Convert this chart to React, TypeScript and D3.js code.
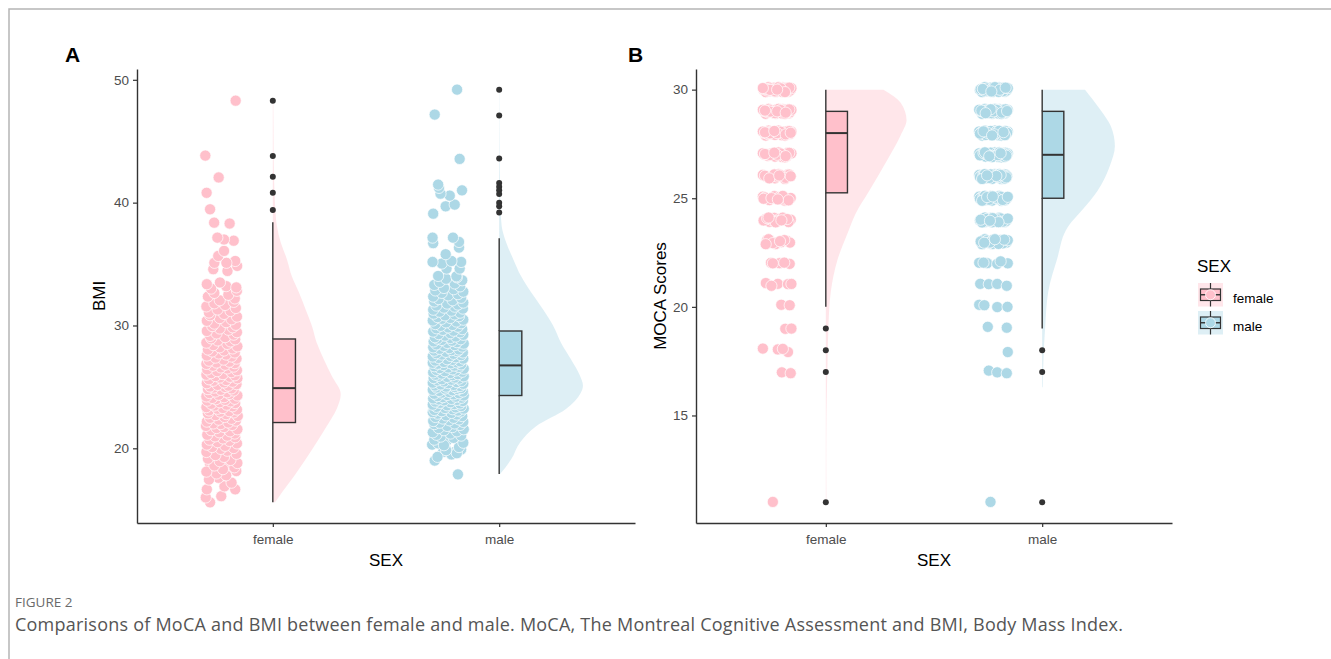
import { useEffect, useRef } from 'react'
import * as d3 from 'd3'

type Pt = [number, number]

const SEXES = ['female', 'male']
const FILL: Record<string, string> = { female: '#FFC0CB', male: '#ADD8E6' }

const bmiTicks = [20, 30, 40, 50]
const mocaTicks = [15, 20, 25, 30]

// BMI observations: [value, horizontal jitter]
const bmiFemale: Pt[] = [
  [15.6, -0.55], [16.0, -0.75], [16.1, -0.03], [16.66, -0.7], [16.9, 0.12], [16.66, 0.62], [17.6, -0.16], [18.15, 0.67], [18.7, -0.55], [18.56, 0.3],
  [17.2, 0.45], [17.45, -0.6], [17.8, 0.2], [17.95, -0.25],
  [18.1, -0.72], [18.3, 0.05], [18.45, 0.58], [18.6, -0.35], [18.8, 0.72], [18.95, -0.1],
  [19.05, 0.4], [19.15, -0.65], [19.3, 0.1], [19.45, -0.3], [19.55, 0.68], [19.7, -0.72], [19.8, 0.25], [19.95, -0.05],
  [20.02, 0.55], [20.1, -0.45], [20.2, 0.15], [20.3, -0.7], [20.4, 0.7], [20.5, -0.2], [20.6, 0.35], [20.7, -0.58], [20.8, 0.05], [20.9, 0.62], [20.97, -0.32],
  [21.03, 0.25], [21.1, -0.68], [21.2, 0.6], [21.3, -0.12], [21.38, 0.38], [21.47, -0.5], [21.55, 0.72], [21.65, -0.25], [21.73, 0.1], [21.82, -0.74], [21.9, 0.48], [21.97, -0.05],
  [22.02, -0.4], [22.1, 0.3], [22.17, -0.7], [22.25, 0.65], [22.33, -0.15], [22.4, 0.45], [22.48, -0.55], [22.55, 0.12], [22.63, 0.74], [22.7, -0.3], [22.78, 0.2], [22.85, -0.65], [22.92, 0.55], [22.98, -0.08],
  [23.02, 0.35], [23.08, -0.6], [23.15, 0.7], [23.22, -0.2], [23.28, 0.05], [23.35, -0.72], [23.42, 0.5], [23.48, -0.35], [23.55, 0.22], [23.62, -0.5], [23.68, 0.62], [23.75, -0.1], [23.82, 0.4], [23.88, -0.68], [23.94, 0.15], [23.99, -0.28],
  [24.03, 0.6], [24.1, -0.45], [24.16, 0.1], [24.22, -0.72], [24.3, 0.72], [24.36, -0.15], [24.42, 0.35], [24.5, -0.58], [24.56, 0.25], [24.62, -0.3], [24.7, 0.55], [24.76, -0.05], [24.82, -0.65], [24.88, 0.45], [24.94, -0.38], [24.99, 0.15],
  [25.03, -0.55], [25.1, 0.3], [25.16, -0.2], [25.22, 0.68], [25.3, -0.7], [25.36, 0.1], [25.42, 0.5], [25.5, -0.4], [25.56, 0.2], [25.62, -0.6], [25.7, 0.72], [25.76, -0.1], [25.82, 0.38], [25.88, -0.3], [25.94, 0.6], [25.99, -0.72],
  [26.04, 0.05], [26.12, -0.5], [26.2, 0.45], [26.28, -0.22], [26.35, 0.7], [26.42, -0.68], [26.5, 0.25], [26.58, -0.05], [26.65, 0.55], [26.72, -0.42], [26.8, 0.15], [26.87, -0.72], [26.93, 0.6], [26.98, -0.25],
  [27.05, 0.35], [27.13, -0.6], [27.22, 0.08], [27.3, 0.68], [27.38, -0.3], [27.47, 0.45], [27.55, -0.7], [27.63, 0.2], [27.72, -0.15], [27.8, 0.6], [27.88, -0.45], [27.96, 0.1],
  [28.04, -0.65], [28.13, 0.5], [28.22, -0.1], [28.3, 0.72], [28.4, -0.4], [28.5, 0.25], [28.6, -0.72], [28.7, 0.4], [28.78, -0.2], [28.87, 0.62], [28.95, -0.5],
  [29.05, 0.15], [29.15, -0.55], [29.25, 0.55], [29.35, -0.25], [29.45, 0.7], [29.55, -0.7], [29.65, 0.3], [29.75, -0.1], [29.85, 0.5], [29.95, -0.45],
  [30.05, 0.65], [30.15, -0.35], [30.27, 0.2], [30.38, -0.7], [30.5, 0.45], [30.6, -0.1], [30.72, 0.7], [30.83, -0.55], [30.94, 0.1],
  [31.05, -0.6], [31.18, 0.4], [31.3, -0.2], [31.42, 0.65], [31.55, -0.72], [31.67, 0.15], [31.8, -0.35], [31.92, 0.55],
  [32.05, -0.1], [32.2, 0.6], [32.35, -0.65], [32.5, 0.3], [32.65, -0.35], [32.82, 0.7],
  [33.0, -0.5], [33.2, 0.2], [33.36, -0.7], [33.5, -0.09], [33.1, 0.67],
  [34.58, -0.4], [34.44, 0.26], [34.85, 0.71], [35.1, -0.35], [35.25, 0.62], [35.1, 0.21], [35.66, -0.17], [36.07, 0.1], [36.9, 0.55], [37.0, 0.1],
  [37.15, -0.21], [38.3, 0.36], [38.37, -0.36], [39.46, -0.55], [40.8, -0.71], [42.05, -0.15], [43.83, -0.77], [48.3, 0.64],
]

const bmiMale: Pt[] = [
  [17.88, 0.45], [19.0, -0.63], [19.7, -0.24], [19.7, 0.3], [20.3, -0.75], [20.4, -0.47], [19.9, 0.6], [20.6, -0.08], [19.5, 0.15],
  [19.3, -0.5], [19.6, 0.4], [19.85, -0.1],
  [20.1, 0.5], [20.25, -0.2], [20.45, 0.7], [20.7, -0.65], [20.85, 0.25], [20.95, -0.35],
  [21.03, 0.6], [21.1, -0.55], [21.2, 0.1], [21.3, -0.72], [21.38, 0.4], [21.47, -0.2], [21.55, 0.72], [21.65, -0.45], [21.73, 0.2], [21.82, -0.05], [21.9, 0.55], [21.97, -0.65],
  [22.02, 0.3], [22.08, -0.4], [22.15, 0.7], [22.22, -0.7], [22.28, 0.05], [22.35, 0.5], [22.42, -0.25], [22.48, 0.25], [22.55, -0.6], [22.62, 0.65], [22.68, -0.1], [22.75, 0.4], [22.82, -0.5], [22.88, 0.15], [22.94, -0.72], [22.99, 0.58],
  [23.02, -0.3], [23.07, 0.45], [23.12, -0.65], [23.18, 0.2], [23.23, 0.72], [23.28, -0.15], [23.33, 0.35], [23.38, -0.55], [23.44, 0.6], [23.5, -0.05], [23.55, -0.72], [23.6, 0.28], [23.65, 0.55], [23.7, -0.38], [23.75, 0.1], [23.8, -0.6], [23.85, 0.68], [23.9, -0.2], [23.94, 0.4], [23.98, -0.45],
  [24.02, 0.15], [24.06, -0.7], [24.11, 0.62], [24.16, -0.25], [24.2, 0.35], [24.25, -0.5], [24.3, 0.72], [24.34, -0.05], [24.39, 0.25], [24.44, -0.65], [24.48, 0.5], [24.53, -0.3], [24.58, 0.05], [24.62, 0.68], [24.67, -0.42], [24.72, 0.2], [24.76, -0.72], [24.81, 0.45], [24.86, -0.15], [24.9, 0.6], [24.95, -0.55], [24.99, 0.3],
  [25.02, -0.1], [25.07, 0.55], [25.11, -0.62], [25.16, 0.25], [25.2, -0.35], [25.25, 0.7], [25.3, 0.0], [25.34, -0.72], [25.39, 0.4], [25.44, -0.2], [25.48, 0.62], [25.53, -0.5], [25.58, 0.15], [25.62, -0.3], [25.67, 0.5], [25.72, -0.68], [25.76, 0.3], [25.81, -0.05], [25.86, 0.72], [25.9, -0.45], [25.95, 0.2], [25.99, -0.6],
  [26.03, 0.45], [26.08, -0.3], [26.13, 0.1], [26.18, -0.7], [26.23, 0.65], [26.28, -0.15], [26.33, 0.35], [26.38, -0.55], [26.43, 0.2], [26.48, 0.72], [26.53, -0.4], [26.58, 0.0], [26.63, 0.5], [26.68, -0.65], [26.73, 0.28], [26.78, -0.22], [26.83, 0.6], [26.88, -0.5], [26.92, 0.12], [26.96, -0.72], [26.99, 0.4],
  [27.03, -0.2], [27.08, 0.55], [27.14, -0.6], [27.2, 0.2], [27.25, -0.05], [27.3, 0.7], [27.36, -0.45], [27.41, 0.35], [27.47, -0.72], [27.52, 0.1], [27.58, 0.6], [27.63, -0.3], [27.69, 0.25], [27.74, -0.55], [27.8, 0.68], [27.85, -0.1], [27.9, 0.42], [27.95, -0.65], [27.99, 0.15],
  [28.04, 0.5], [28.1, -0.4], [28.16, 0.05], [28.22, -0.7], [28.28, 0.65], [28.34, -0.2], [28.4, 0.3], [28.46, -0.55], [28.52, 0.72], [28.58, -0.05], [28.64, 0.4], [28.7, -0.68], [28.76, 0.18], [28.82, -0.3], [28.88, 0.58], [28.93, -0.5], [28.98, 0.1],
  [29.04, -0.62], [29.1, 0.35], [29.17, -0.15], [29.24, 0.7], [29.3, -0.45], [29.37, 0.1], [29.44, 0.55], [29.5, -0.7], [29.57, 0.25], [29.64, -0.25], [29.7, 0.65], [29.77, -0.55], [29.84, 0.0], [29.9, 0.45], [29.97, -0.35],
  [30.04, 0.2], [30.11, -0.6], [30.18, 0.6], [30.25, -0.1], [30.32, 0.38], [30.4, -0.72], [30.47, 0.7], [30.54, -0.3], [30.61, 0.1], [30.68, -0.5], [30.75, 0.5], [30.82, -0.15], [30.9, 0.3], [30.96, -0.68],
  [31.04, 0.55], [31.12, -0.4], [31.2, 0.15], [31.28, -0.7], [31.37, 0.68], [31.45, -0.2], [31.53, 0.3], [31.62, -0.55], [31.7, 0.45], [31.78, -0.05], [31.86, 0.7], [31.95, -0.65],
  [32.05, 0.2], [32.15, -0.45], [32.25, 0.6], [32.35, -0.7], [32.45, 0.0], [32.55, 0.45], [32.65, -0.3], [32.75, 0.7], [32.85, -0.6], [32.95, 0.25],
  [33.05, -0.2], [33.18, 0.55], [33.3, -0.65], [33.42, 0.3], [33.55, -0.4], [33.68, 0.65], [33.8, -0.1], [33.92, 0.4],
  [34.0, 0.38], [34.03, -0.47], [34.63, -0.08], [34.63, 0.53], [35.04, -0.3], [35.17, -0.73], [35.17, 0.6], [35.25, 0.15], [35.8, -0.12], [36.34, 0.5],
  [36.7, -0.7], [36.8, 0.5], [37.15, -0.73], [37.15, 0.22], [39.1, -0.7], [39.7, -0.12], [39.84, 0.3], [40.57, 0.07], [40.73, -0.36], [41.0, 0.64],
  [41.2, -0.43], [41.47, -0.47], [43.56, 0.53], [47.17, -0.63], [49.2, 0.41],
]

// half-violin outlines: [value, width in category steps]
const bmiFemaleDensity: Pt[] = [
  [15.6, 0.01], [16.4, 0.04], [17.7, 0.093], [19.1, 0.145], [20.5, 0.194], [21.8, 0.238], [23.2, 0.282], [24.4, 0.3],
  [25.9, 0.26], [27.25, 0.225], [28.6, 0.194], [30.0, 0.172], [31.3, 0.145], [32.7, 0.115], [34.0, 0.084], [35.4, 0.062],
  [36.75, 0.035], [38.1, 0.018], [39.5, 0.011], [41.0, 0.007], [43.5, 0.004], [46.0, 0.003], [48.3, 0.002],
]
const bmiMaleDensity: Pt[] = [
  [17.9, 0.004], [19.1, 0.053], [20.5, 0.093], [21.8, 0.163], [23.2, 0.295], [24.5, 0.36], [25.1, 0.37], [25.9, 0.357],
  [27.25, 0.317], [28.6, 0.273], [30.0, 0.238], [31.3, 0.194], [32.7, 0.141], [34.0, 0.097], [35.4, 0.062], [36.75, 0.031],
  [38.1, 0.011], [39.5, 0.006], [41.5, 0.004], [44.0, 0.002], [49.2, 0.001],
]
const mocaFemaleDensity: Pt[] = [
  [11, 0.003], [13, 0.002], [15, 0.003], [16.1, 0.005], [17.5, 0.008], [19.1, 0.012], [20.7, 0.023], [22.2, 0.055],
  [23.4, 0.101], [24.3, 0.138], [25.3, 0.198], [26.8, 0.286], [27.9, 0.346], [28.6, 0.373], [29.4, 0.346], [30, 0.267],
]
const mocaMaleDensity: Pt[] = [
  [16.3, 0.003], [17.6, 0.006], [19.1, 0.014], [20.7, 0.028], [22.2, 0.069], [23.7, 0.12], [24.5, 0.189], [25.3, 0.253],
  [26.5, 0.313], [27.4, 0.336], [28.3, 0.318], [29.1, 0.267], [30, 0.198],
]

// box stats: [lower whisker, Q1, median, Q3, upper whisker]
const bmiFemaleBox = [15.6, 22.1, 24.9, 28.9, 38.4]
const bmiMaleBox = [17.9, 24.3, 26.75, 29.55, 37.1]
const mocaFemaleBox = [20, 25.25, 28, 29, 30]
const mocaMaleBox = [19, 25, 27, 29, 30]

const bmiFemaleOutliers = [48.3, 43.8, 42.1, 40.8, 39.4]
const bmiMaleOutliers = [49.2, 47.1, 43.6, 41.6, 41.3, 41.0, 40.7, 40.0, 39.7, 39.2]
const mocaFemaleOutliers = [19, 18, 17, 11]
const mocaMaleOutliers = [18, 17, 11]

// MoCA: counts on the crowded scores, single points on the rest
const MOCA_LEVELS = [30, 29, 28, 27, 26, 25, 24, 23]
const mocaFemaleCounts = [40, 35, 30, 22, 18, 16, 14, 12]
const mocaMaleCounts = [35, 38, 40, 38, 34, 30, 26, 22]
const mocaFemaleSparse: Pt[] = [
  [22, -0.43], [22, 0.17], [22, 0.88], [22, -0.3], [22, 0.5],
  [21, -0.79], [21, 0.05], [21, 0.76], [21, 1.0], [21, -0.4],
  [20, 0.29], [20, 0.88], [19, 0.57], [19, 1.0],
  [18, -1.0], [18, 0.05], [18, 0.76], [18, 0.4], [17, 0.33], [17, 0.95], [11, -0.3],
]
const mocaMaleSparse: Pt[] = [
  [22, -1.0], [22, -0.45], [22, 0.26], [22, 1.0], [22, -0.7], [22, 0.5],
  [21, -0.93], [21, -0.33], [21, 0.26], [21, 0.93],
  [20, -1.0], [20, -0.64], [20, 0.26], [20, 0.98],
  [19, -0.4], [19, 0.93], [18, 1.0], [17, -0.33], [17, 0.26], [17, 0.93], [11, -0.21],
]

// hand-picked jitter offsets [dx, dy] for the crowded score rows
const JITTER: Pt[] = [
  [-0.85, 0.3], [0.6, -0.5], [-0.2, 0.8], [0.95, 0.1], [-0.55, -0.7], [0.15, 0.4], [-0.95, -0.2], [0.4, 0.9],
  [0.8, -0.8], [-0.4, 0.05], [0.05, -0.45], [-0.7, 0.65], [0.7, 0.35], [-0.1, -0.9], [0.3, -0.15], [-0.6, 0.95],
  [0.9, -0.35], [-0.3, -0.55], [0.5, 0.6], [-0.8, -0.95], [0.2, 0.2], [-0.45, 0.45], [0.65, -0.65], [-0.05, 0.7],
  [1.0, 0.55], [-0.9, 0.1], [0.35, -0.85], [-0.25, -0.3], [0.75, 0.8], [-0.65, -0.4], [0.1, 0.95], [0.45, -0.05],
  [-0.75, 0.25], [0.85, 0.75], [-0.15, -0.7], [0.25, 0.5], [-0.5, -0.1], [0.55, -0.95], [-1.0, 0.6], [0.0, 0.0],
]

const PLOT_TOP = 69
const PLOT_BOTTOM = 523
const FONT = '"Liberation Sans", Arial, Helvetica, sans-serif'

function mocaPoints(counts: number[], sparse: Pt[]): Pt[] {
  const pts: Pt[] = []
  MOCA_LEVELS.forEach((lv, i) => {
    for (let k = 0; k < counts[i]; k++) {
      const [dx, dy] = JITTER[(k + i * 7) % JITTER.length]
      pts.push([lv + dy * 0.12, dx * 0.066])
    }
  })
  sparse.forEach(([v, dx], k) => pts.push([v + JITTER[(k * 3) % JITTER.length][1] * 0.1, dx * 0.066]))
  return pts
}

function drawPanel(svg: any, cfg: any) {
  const { xRange, yDomain, ticks, yTitle, label, labelX, groups } = cfg
  const x = d3.scalePoint<string>().domain(SEXES).range(xRange).padding(0.6)
  const unit = x.step()
  const y = d3.scaleLinear().domain(yDomain).range([PLOT_BOTTOM, PLOT_TOP])
  const g = svg.append('g')

  groups.forEach((grp: any) => {
    const cx = x(grp.sex) as number
    const fill = FILL[grp.sex]

    const area = d3.area<Pt>()
      .y((d) => y(d[0]))
      .x0(cx)
      .x1((d) => cx + d[1] * unit)
      .curve(d3.curveMonotoneY)
    g.append('path').attr('d', area(grp.density)).attr('fill', fill).attr('fill-opacity', 0.4)

    const [lo, q1, med, q3, hi] = grp.box
    g.append('line').attr('x1', cx).attr('x2', cx).attr('y1', y(lo)).attr('y2', y(q1))
      .attr('stroke', '#333').attr('stroke-width', 1.4)
    g.append('line').attr('x1', cx).attr('x2', cx).attr('y1', y(q3)).attr('y2', y(hi))
      .attr('stroke', '#333').attr('stroke-width', 1.4)
    g.append('rect').attr('x', cx).attr('width', unit * 0.1)
      .attr('y', y(q3)).attr('height', y(q1) - y(q3))
      .attr('fill', fill).attr('stroke', '#333').attr('stroke-width', 1.4)
    g.append('line').attr('x1', cx).attr('x2', cx + unit * 0.1).attr('y1', y(med)).attr('y2', y(med))
      .attr('stroke', '#333').attr('stroke-width', 2)

    g.selectAll(null).data(grp.outliers).join('circle')
      .attr('cx', cx).attr('cy', (d: number) => y(d)).attr('r', 3).attr('fill', '#333')

    const center = cx - 0.225 * unit
    g.selectAll(null).data(grp.points).join('circle')
      .attr('cx', (d: Pt) => center + d[1] * unit)
      .attr('cy', (d: Pt) => y(d[0]))
      .attr('r', 5.6)
      .attr('fill', fill)
      .attr('stroke', '#fff').attr('stroke-width', 0.7)
  })

  // axes
  const ya = g.append('g').attr('transform', `translate(${xRange[0]},0)`)
    .call(d3.axisLeft(y).tickValues(ticks).tickSize(4).tickPadding(4).tickSizeOuter(0))
  const xa = g.append('g').attr('transform', `translate(0,${PLOT_BOTTOM})`)
    .call(d3.axisBottom(x).tickSize(4).tickPadding(7).tickSizeOuter(0))
  ;[ya, xa].forEach((a) => {
    a.attr('font-family', FONT).attr('font-size', 13.5)
    a.select('.domain').attr('stroke', '#333').attr('stroke-width', 1.4)
    a.selectAll('.tick line').attr('stroke', '#333').attr('stroke-width', 1.2)
    a.selectAll('.tick text').attr('fill', '#4D4D4D')
  })

  g.append('text')
    .attr('x', (xRange[0] + xRange[1]) / 2).attr('y', 566)
    .attr('text-anchor', 'middle').attr('font-family', FONT).attr('font-size', 17).attr('fill', '#000')
    .text('SEX')
  g.append('text')
    .attr('transform', `translate(${cfg.yTitleX},${(PLOT_TOP + PLOT_BOTTOM) / 2}) rotate(-90)`)
    .attr('text-anchor', 'middle').attr('font-family', FONT).attr('font-size', 17).attr('fill', '#000')
    .text(yTitle)
  g.append('text')
    .attr('x', labelX).attr('y', 62)
    .attr('font-family', FONT).attr('font-size', 21).attr('font-weight', 700).attr('fill', '#000')
    .text(label)
}

export default function App() {
  const svgRef = useRef<SVGSVGElement>(null)

  useEffect(() => {
    if (!svgRef.current) return
    const svg = d3.select(svgRef.current)
    svg.selectAll('*').remove()

    // page frame
    svg.append('path').attr('d', 'M9,659V9H1331').attr('fill', 'none')
      .attr('stroke', '#b5b5b5').attr('stroke-width', 1.5)

    drawPanel(svg, {
      xRange: [137, 635], yDomain: [13.92, 50.88], ticks: bmiTicks,
      yTitle: 'BMI', yTitleX: 105, label: 'A', labelX: 65,
      groups: [
        { sex: 'female', density: bmiFemaleDensity, box: bmiFemaleBox, outliers: bmiFemaleOutliers,
          points: bmiFemale.map(([v, j]) => [v, j * 0.095]) },
        { sex: 'male', density: bmiMaleDensity, box: bmiMaleBox, outliers: bmiMaleOutliers,
          points: bmiMale.map(([v, j]) => [v, j * 0.095]) },
      ],
    })

    drawPanel(svg, {
      xRange: [696, 1172], yDomain: [10.05, 30.95], ticks: mocaTicks,
      yTitle: 'MOCA Scores', yTitleX: 666, label: 'B', labelX: 628,
      groups: [
        { sex: 'female', density: mocaFemaleDensity, box: mocaFemaleBox, outliers: mocaFemaleOutliers,
          points: mocaPoints(mocaFemaleCounts, mocaFemaleSparse) },
        { sex: 'male', density: mocaMaleDensity, box: mocaMaleBox, outliers: mocaMaleOutliers,
          points: mocaPoints(mocaMaleCounts, mocaMaleSparse) },
      ],
    })

    // legend
    const lg = svg.append('g').attr('font-family', FONT)
    lg.append('text').attr('x', 1197).attr('y', 272).attr('font-size', 17).attr('fill', '#000').text('SEX')
    SEXES.forEach((s, i) => {
      const top = 283 + i * 28
      const k = lg.append('g').attr('transform', `translate(1198,${top})`)
      k.append('rect').attr('width', 25).attr('height', 23.5).attr('fill', FILL[s]).attr('fill-opacity', 0.4)
      k.append('line').attr('x1', 12.5).attr('x2', 12.5).attr('y1', 0).attr('y2', 23.5)
        .attr('stroke', '#333').attr('stroke-width', 1.2)
      k.append('rect').attr('x', 2.5).attr('y', 6).attr('width', 20).attr('height', 11.5)
        .attr('fill', FILL[s]).attr('stroke', '#333').attr('stroke-width', 1.2)
      k.append('line').attr('x1', 2.5).attr('x2', 22.5).attr('y1', 11.75).attr('y2', 11.75)
        .attr('stroke', '#333').attr('stroke-width', 1.4)
      k.append('circle').attr('cx', 12.5).attr('cy', 11.75).attr('r', 5)
        .attr('fill', FILL[s]).attr('stroke', '#fff').attr('stroke-width', 0.8)
      lg.append('text').attr('x', 1233).attr('y', top + 20).attr('font-size', 13.5).attr('fill', '#000').text(s)
    })

    // caption
    svg.append('text').attr('x', 15).attr('y', 607)
      .attr('font-family', '"Open Sans", sans-serif').attr('font-size', 13.5).attr('fill', '#6a6a6a')
      .text('FIGURE 2')
    svg.append('text').attr('x', 15).attr('y', 631)
      .attr('font-family', '"Open Sans", sans-serif').attr('font-size', 18).attr('fill', '#555')
      .attr('textLength', 1108).attr('lengthAdjust', 'spacing')
      .text('Comparisons of MoCA and BMI between female and male. MoCA, The Montreal Cognitive Assessment and BMI, Body Mass Index.')
  }, [])

  return (
    <svg
      ref={svgRef}
      width={1331}
      height={659}
      style={{ position: 'absolute', left: 0, top: 0, background: '#fff' }}
    />
  )
}
